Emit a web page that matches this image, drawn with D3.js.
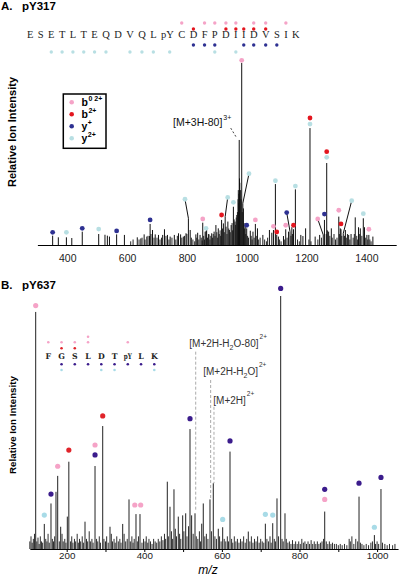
<!DOCTYPE html>
<html><head><meta charset="utf-8">
<script src="https://cdn.jsdelivr.net/npm/d3@7"></script>
<style>body{margin:0;background:#fff}svg{display:block}</style>
</head><body>
<svg id="c" width="400" height="582"></svg>
<script>
// ---------------- DATA ----------------
// Panel A (pY317)
const seqA = ["E","S","E","T","L","T","E","Q","D","V","Q","L","pY","C","D","F","P","D","I","I","D","V","S","I","K"];
const seqAPink = [13,15,16,17,18,20,21,23];
const seqARed = [14,17,18,19,20,21];
const seqADark = [14,15,16,19,20,21,22];
const seqALight = [2,3,4,5,6,7,9,10,11,12,16,18];
const ticksA = [400,600,800,1000,1200,1400];
// [m/z, relative intensity]
const peaksA = [[351,5.1],[370,4.2],[397,4.2],[415,3.8],[450,7.3],[505,6.0],[526,5.6],[534,5.1],[541,4.6],[565,5.8],[591,5.5],
[634,4.2],[646,3.6],[657,5.8],[666,4.6],[675,4.9],[677,11.5],[685,8.2],[694,5.8],[705,5.5],[719,5.5],[725,8.6],[735,5.5],[744,4.6],
[758,5.5],[772,6.4],[779,5.8],[788,4.6],[797,6.4],[805,14.6],[811,8.2],[830,5.8],[836,6.7],[844,5.5],[853,12.2],[861,7.3],[864,7.5],
[866,8.2],[874,5.8],[883,6.4],[891,7.3],[897,10.9],[905,9.1],[916,13.7],[922,11.8],[928,15.5],[937,12.8],[942,8.2],[948,10.9],
[955.5,20.9],[961,12.8],[967,16.4],[973,22.8],[975,57.4],[976,36.4],[983.3,99.5],[987,22.8],[989,20],[995,11.8],[1000,9.1],
[1012,7.8],[1021,7.3],[1029,11.5],[1036,9.1],[1054,5.5],[1076,8.2],[1084,6.7],[1089.5,8.2],[1096,33.3],[1100.5,5.5],[1106,4.6],
[1123,4.9],[1130.5,8.6],[1140,7.3],[1145,7.3],[1151,9.7],[1156.5,8.6],[1162.8,30.4],[1181,5.5],[1188,4.9],[1197,9.1],[1211.7,63.9],
[1229,4.6],[1244,5.5],[1256,5.5],[1260,13.7],[1267.6,44.8],[1274,7.3],[1283,9.1],[1308,15.5],[1313,9.1],[1315.4,8.6],[1323,6.4],
[1330,8.2],[1341,5.5],[1349,6.0],[1363,15.1],[1374,9.7],[1380,9.1],[1390,14.6],[1394,9.7],[1402,5.5],[1408.5,5.5],[1422,4.6]];
const noiseA = [[612,2],[620,3],[640,3],[650,4],[660,3],[670,5],[680,6],[690,4],[700,4],[710,3],[715,4],[730,5],[740,3],[750,4],
[763,3],[768,5],[783,4],[792,5],[800,6],[815,4],[820,3],[826,2],[833,4],[840,3],[848,4],[851,2.5],[856,5],[859,3],[869,4],[872,6],
[877,3],[880,5],[886,4],[888,6],[894,5],[900,7],[903,4],[908,6],[911,8],[913,5],[919,9],[925,7],[931,10],[934,6],[940,9],[945,7],
[951,12],[953,8],[958,14],[963,11],[965,15],[969,18],[971,25],[972,30],[974,28],[977,34],[979,30],[981,25],[985,18],[991,12],
[993,9],[997,6],[1003,5],[1006,4],[1015,5],[1018,3],[1025,4],[1032,5],[1040,3],[1045,4],[1060,3],[1066,2],[1070,4],[1110,3],
[1115,2],[1127,3],[1135,4],[1148,5],[1153,6],[1170,3],[1176,2],[1208,3],[1215,2],[1238,3],[1250,4],[1266,6],[1270,8],[1278,5],
[1286,4],[1292,6],[1297,3],[1302,4],[1310,6],[1318,5],[1327,5],[1333,4],[1337,6],[1345,3],[1356,4],[1360,6],[1368,5],[1371,3],
[1378,6],[1385,5],[1398,4],[1405,3],[1412,3],[1416,2]];
// [ion type, dot m/z, dot intensity, (leader target m/z, leader target intensity)]
const annA = [["y1",351,6.9],["y2",397,6.9],["y1",450,9.1],["y2",505,8.7],["y1",565,7.7],["y1",677,13.7],
["y2",793.6,25,805,14.6],["b02",853,14.2],["y2",864,9.1],["b2",916,16.4],["y2",936.5,26,928,15.5],["y2",955.5,23.3],
["y2",1007.7,39,987,22.8],["y1",1000,10.8],["b02",1029,13.7],["y2",1096,35.1],["b02",1089.5,10.2],["b2",1100.5,7.1],
["b02",1130.5,10.8],["y1",1133.8,17.7,1145,7.3],["b2",1156.5,10.8],["y2",1162.8,32.2],["b02",1237.5,14.2,1256,5.5],
["y1",1260,16.9],["b2",1267.6,51],["y2",1267.6,47.9],["b02",1308,19],["b2",1315.4,11.5],["y2",1351.2,24.2,1323,6.4],
["y2",1390,17.1],["b02",1408.5,8.6],["b02",983.3,100.9],["b2",1211.7,69.4],["y2",1211.7,66.1]];
const precursorA = {text:"[M+3H-80]", sup:"3+", fromMz:946.5, fromI:63.9, toMz:966.6, toI:58.5};

// Panel B (pY637)
const seqB = ["F","G","S","L","D","T","pY","L","K"];
const seqBPink = [0,1,2,3,6];
const seqBPink2 = [3];
const seqBRed = [1,2];
const seqBDark = [1,2,3,4,5,6,7,8];
const seqBLight = [1,4,5,8];
const ticksB = [200,300,400,500,600,700,800,900,1000];
const tickLabelsB = [200,400,600,800,1000];
const peaksB = [[120.1,93.7],[142.3,9.9],[159.5,18],[172.4,22.6],[176.8,28.9],[184.5,8.8],[201.6,12.8],[205.5,34.5],
[247.2,10.8],[273,32.8],[292.8,48.6],[311.6,8.8],[344.3,9.9],[360.6,19.6],[378.6,13.8],[388.9,13.8],[459.3,26.6],[466.2,16.7],
[476.5,23.6],[487.6,12.8],[498.9,13.3],[506.7,14.1],[517.8,47.4],[522,13.3],[530.7,14.1],[548,10],[552,18],[569.3,19.6],[577.8,26],
[590.7,8],[602,8.6],[620.9,38.5],[668,6.9],[712,10],[731,10.2],[742,20],[751.5,100],[762.6,14.1],[865,14.8],[953.4,20.7],
[993,5.5],[1010,23.7]];
const noiseB = [[105,3],[108,5],[111,2.5],[114,4],[117,6],[123,3],[126,4.5],[129,2],[132,5],[135,3],[138,2.5],[146,4],[149,3],
[152,6],[155,2.5],[163,4],[166,3],[169,5],[181,3],[188,6],[191,3],[195,4],[198,2.5],[210,3],[213,5],[216,2.5],[220,4],[223,3],
[227,6],[230,2.5],[233,4],[236,3],[240,5],[243,2.5],[251,4],[254,3],[258,7],[261,3],[265,4],[268,2.5],[277,4],[280,3],[284,5],
[287,2.5],[296,4],[300,3],[303,5],[307,2.5],[315,6],[318,3],[322,4],[325,2.5],[329,5],[333,3],[337,4],[340,2.5],[348,6],[352,3],
[356,4],[364,3],[368,5],[371,2.5],[374,4],[382,3],[385,5],[394,2.5],[398,4],[402,3],[405,5],[409,2.5],[412,4],[416,3],[420,2],
[424,4],[428,3],[432,2.5],[436,4],[440,3],[444,5],[448,3.5],[452,6],[455,4],[462,5],[470,7],[473,4],[480,8],[483,5],[491,6],
[494,4],[502,7],[510,5],[514,9],[526,6],[534,5],[538,4],[542,7],[545,3],[556,5],[560,6],[564,4],[573,7],[582,5],[586,4],[594,5],
[598,3],[606,4],[610,3],[614,5],[617,3],[625,4],[628,2.5],[632,5],[636,3],[640,4],[644,2.5],[648,4],[652,3],[656,5],[660,2.5],
[664,4],[672,3],[676,5],[680,2.5],[684,4],[688,3],[692,5],[696,2.5],[700,4],[704,3],[708,2.5],[716,4],[720,3],[724,5],[727,2.5],
[735,4],[738,3],[746,5],[755,4],[758,3],[766,4],[770,2.5],[774,3],[778,2],[782,3.5],[786,2],[790,3],[794,2],[798,3],[802,2],
[806,4],[810,2.5],[814,3],[818,2],[822,3],[826,2],[830,3.5],[834,2],[838,3],[842,2],[846,3],[850,2],[854,2.5],[858,3],[862,4],
[869,3],[873,2],[877,3],[881,2],[885,2.5],[890,2],[895,2],[900,1.5],[905,2],[910,1.5],[916,2],[922,1.5],[928,4],[931,3],[935,5],
[940,2],[945,4],[950,3],[957,2.5],[961,2],[966,1.5],[972,2],[978,1.5],[984,2.5],[988,3],[996,2],[1000,3],[1004,2],[1014,2.5],
[1020,2],[1026,1.5],[1032,2],[1040,1.5],[1046,2]];
const annB = [["b02",120.1,96.2],["y1",751.5,103],["b02",176.8,32.7],["b2",205.5,39.1],["b2",292.8,52.6],["b02",273,41.1],
["y1",273,37.2],["y1",517.8,51.5],["y1",620.9,42.7],["y1",159.5,21.7],["y2",142.3,13.4],["b02",375.5,17.4],["b02",390.7,17.4],
["y2",602,11.7],["y2",712,13.7],["y2",731,13.4],["y1",865,23.6],["b02",865,19.6],["y1",953.4,26],["y1",1010,28.3],["y2",993,8.6]];
// precursor markers
const precB = [
  {parts:[["[M+2H-H"],["2","sub"],["O-80]"],["2+","sup"]], mz:532.5, top:78, bot:14.8, dx:-6.4, dy:-5},
  {parts:[["[M+2H-H"],["2","sub"],["O]"],["2+","sup"]], mz:571, top:66.8, bot:19.8, dx:-7.4, dy:-5},
  {parts:[["[M+2H]"],["2+","sup"]], mz:579.6, top:56.2, bot:26, dx:-0.7, dy:-2.7}
];
const legendItems = [["b02","b","0 2+"],["b2","b","2+"],["y1","y","+"],["y2","y","2+"]];

// ---------------- DRAW ----------------
const svg = d3.select("#c");
const colA = {b02:"#f5a3c7", b2:"#e3161f", y1:"#2e3192", y2:"#b8dfe3"};
const colB = {b02:"#f5a3c7", b2:"#e0242a", y1:"#3b1c8c", y2:"#a8dbe7"};
const sans = "'Liberation Sans', Arial, sans-serif";
const fmt = d3.format("d");

// ---- Panel A ----
const xA = d3.scaleLinear().domain([300,1500]).range([37.4,396.2]);
const yA = d3.scaleLinear().domain([0,100]).range([245,62]);

svg.append("text").attr("x",1).attr("y",9.5).attr("font-family",sans).attr("font-weight","bold").attr("font-size",11.5).text("A.");
svg.append("text").attr("x",22).attr("y",9.5).attr("font-family",sans).attr("font-weight","bold").attr("font-size",11.5).text("pY317");

const gA = svg.append("g");
gA.selectAll("line.n").data(noiseA).join("line").attr("class","n")
  .attr("x1",d=>xA(d[0])).attr("x2",d=>xA(d[0])).attr("y1",yA(0)).attr("y2",d=>yA(d[1]))
  .attr("stroke","#111").attr("stroke-width",0.9);
gA.selectAll("line.p").data(peaksA).join("line").attr("class","p")
  .attr("x1",d=>xA(d[0])).attr("x2",d=>xA(d[0])).attr("y1",yA(0)).attr("y2",d=>yA(d[1]))
  .attr("stroke","#111").attr("stroke-width",1);
gA.selectAll("line.l").data(annA.filter(d=>d.length>3)).join("line").attr("class","l")
  .attr("x1",d=>xA(d[1])).attr("y1",d=>yA(d[2])).attr("x2",d=>xA(d[3])).attr("y2",d=>yA(d[4]))
  .attr("stroke","#111").attr("stroke-width",1);
gA.selectAll("circle").data(annA).join("circle")
  .attr("cx",d=>xA(d[1])).attr("cy",d=>yA(d[2])).attr("r",2.4).attr("fill",d=>colA[d[0]]);

const axA = svg.append("g").attr("transform",`translate(0,${yA(0)})`)
  .call(d3.axisBottom(xA).tickValues(ticksA).tickSize(0).tickSizeOuter(0).tickPadding(10).tickFormat(fmt));
axA.select(".domain").attr("stroke","#000").attr("stroke-width",1);
axA.selectAll("text").attr("font-family",sans).attr("font-size",10.5).attr("fill","#222");

// precursor label A
gA.append("line").attr("x1",xA(precursorA.fromMz)).attr("y1",yA(precursorA.fromI))
  .attr("x2",xA(precursorA.toMz)).attr("y2",yA(precursorA.toI))
  .attr("stroke","#444").attr("stroke-dasharray","2,2");
const tA = gA.append("text").attr("x",xA(precursorA.fromMz)-57.7).attr("y",yA(precursorA.fromI)-2.3)
  .attr("font-family",sans).attr("font-size",10.5).attr("fill","#111");
tA.append("tspan").text(precursorA.text);
tA.append("tspan").attr("dy",-6).attr("dx",1).attr("font-size",7).text(precursorA.sup);

svg.append("text").attr("transform",`translate(15.5,132) rotate(-90)`).attr("text-anchor","middle")
  .attr("font-family",sans).attr("font-weight","bold").attr("font-size",11).text("Relative Ion Intensity");

// sequence A
const gSA = svg.append("g");
let cx = 27; const posA = [];
seqA.forEach(r=>{
  const t = gSA.append("text").attr("x",cx).attr("y",38).attr("font-family","'Liberation Serif', 'Times New Roman', serif")
    .attr("font-size",10.5).attr("fill","#222").text(r);
  const w = t.node().getComputedTextLength();
  posA.push(r==="pY" ? cx + w*0.68 : cx + w/2);
  cx += w + 4.4;
});
const rowA = (idx,y,c)=>gSA.selectAll(null).data(idx).join("circle")
  .attr("cx",i=>posA[i]).attr("cy",y).attr("r",1.7).attr("fill",c);
rowA(seqAPink,23,colA.b02); rowA(seqARed,29,colA.b2); rowA(seqADark,45,colA.y1); rowA(seqALight,52,colA.y2);

// legend
const lg = svg.append("g");
lg.append("rect").attr("x",63.3).attr("y",94).attr("width",42.7).attr("height",54.3)
  .attr("fill","#fff").attr("stroke","#000").attr("stroke-width",1.5);
const lgY = d3.scalePoint().domain(d3.range(legendItems.length)).range([102.3,138.3]);
legendItems.forEach((d,i)=>{
  lg.append("circle").attr("cx",71.7).attr("cy",lgY(i)).attr("r",2.3).attr("fill",colA[d[0]]);
  const t = lg.append("text").attr("x",81.5).attr("y",lgY(i)+3.2).attr("font-family",sans)
    .attr("font-weight","bold").attr("font-size",10.5);
  t.append("tspan").text(d[1]);
  t.append("tspan").attr("dy",-4.5).attr("dx",0.5).attr("font-size",7).text(d[2]);
});

// ---- Panel B ----
const xB = d3.scaleLinear().domain([105,1054]).range([29.84,398.05]);
const yB = d3.scaleLinear().domain([0,100]).range([549,296]);

svg.append("text").attr("x",1).attr("y",289).attr("font-family",sans).attr("font-weight","bold").attr("font-size",11.5).text("B.");
svg.append("text").attr("x",22).attr("y",289).attr("font-family",sans).attr("font-weight","bold").attr("font-size",11.5).text("pY637");

const gB = svg.append("g");
gB.selectAll("line.n").data(noiseB).join("line").attr("class","n")
  .attr("x1",d=>xB(d[0])).attr("x2",d=>xB(d[0])).attr("y1",yB(0)).attr("y2",d=>yB(d[1]))
  .attr("stroke","#1a1a1a").attr("stroke-width",0.9);
gB.selectAll("line.p").data(peaksB).join("line").attr("class","p")
  .attr("x1",d=>xB(d[0])).attr("x2",d=>xB(d[0])).attr("y1",yB(0)).attr("y2",d=>yB(d[1]))
  .attr("stroke","#222").attr("stroke-width",1);
precB.forEach(p=>{
  gB.append("line").attr("x1",xB(p.mz)).attr("x2",xB(p.mz)).attr("y1",yB(p.top)).attr("y2",yB(p.bot))
    .attr("stroke","#aaa").attr("stroke-width",1).attr("stroke-dasharray","3,2");
  const t = gB.append("text").attr("x",xB(p.mz)+p.dx).attr("y",yB(p.top)+p.dy)
    .attr("font-family",sans).attr("font-size",10).attr("fill","#333");
  let prev = null;
  p.parts.forEach(([s,k])=>{
    const ts = t.append("tspan").text(s);
    if(k==="sub") ts.attr("dy",3).attr("font-size",7);
    else if(k==="sup") ts.attr("dy",prev==="sub"?-11:-8).attr("font-size",6.5).attr("dx",1);
    else if(prev==="sub") ts.attr("dy",-3);
    prev = k;
  });
});
gB.selectAll("circle").data(annB).join("circle")
  .attr("cx",d=>xB(d[1])).attr("cy",d=>yB(d[2])).attr("r",2.6).attr("fill",d=>colB[d[0]]);

const axB = svg.append("g").attr("transform",`translate(0,${yB(0)})`)
  .call(d3.axisBottom(xB).tickValues(ticksB).tickSize(3).tickSizeOuter(0).tickPadding(0)
    .tickFormat(v=>tickLabelsB.includes(v)?fmt(v):""));
axB.select(".domain").attr("stroke","#000");
axB.selectAll("text").attr("font-family",sans).attr("font-size",9.8).attr("fill","#222");

svg.append("text").attr("x",208).attr("y",574).attr("text-anchor","middle").attr("font-family",sans)
  .attr("font-style","italic").attr("font-size",12).text("m/z");
svg.append("text").attr("transform",`translate(15.5,425) rotate(-90)`).attr("text-anchor","middle")
  .attr("font-family",sans).attr("font-weight","bold").attr("font-size",9.8).text("Relative Ion Intensity");

// sequence B
const gSB = svg.append("g");
const sx = d3.scalePoint().domain(d3.range(seqB.length)).range([48.3,154.3]);
seqB.forEach((r,i)=>{
  const t = gSB.append("text").attr("x",sx(i)).attr("y",359.3).attr("text-anchor","middle")
    .attr("font-family","'DejaVu Serif', serif").attr("font-weight","bold").attr("font-size",7.8).attr("fill","#222").text(r);
  if(r==="pY") t.attr("textLength",8).attr("lengthAdjust","spacingAndGlyphs");
});
const rowB = (idx,y,c)=>gSB.selectAll(null).data(idx).join("circle")
  .attr("cx",i=>sx(i)).attr("cy",y).attr("r",1.3).attr("fill",c);
rowB(seqBPink,342.3,colB.b02); rowB(seqBPink2,336.7,colB.b02); rowB(seqBRed,348.3,colB.b2);
rowB(seqBDark,364.3,colB.y1); rowB(seqBLight,370,colB.y2);
</script>
</body></html>
